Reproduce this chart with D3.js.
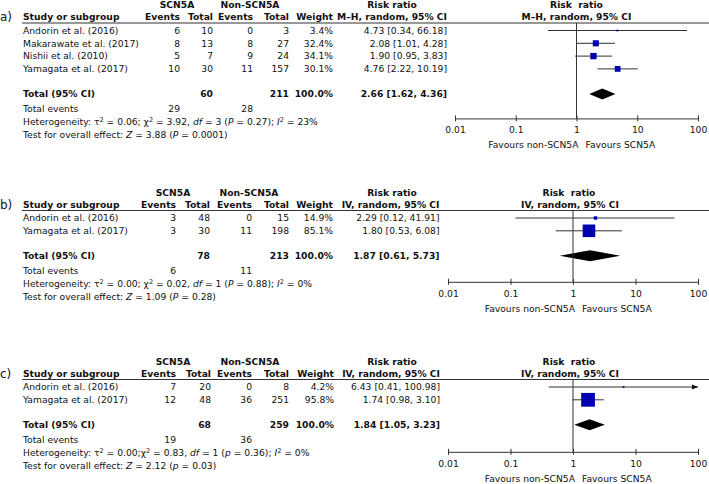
<!DOCTYPE html>
<html>
<head>
<meta charset="utf-8">
<script src="https://cdn.jsdelivr.net/npm/d3@7"></script>
<style>
  body { margin: 0; background: #fff; }
  svg text { font-family: "DejaVu Sans", sans-serif; font-size: 9.2px; fill: #111; }
  .bold { font-weight: bold; }
</style>
</head>
<body>
<div id="chart"></div>
<script>
// data, one entry per panel (a, b, c)
var panelLabels = ["a)", "b)", "c)"];
var methodLabels = ["M\u2013H, random, 95% CI", "IV, random, 95% CI", "IV, random, 95% CI"];
var studies = [
  ["Andorin et al. (2016)", "Makarawate et al. (2017)", "Nishii et al. (2010)", "Yamagata et al. (2017)"],
  ["Andorin et al. (2016)", "Yamagata et al. (2017)"],
  ["Andorin et al. (2016)", "Yamagata et al. (2017)"]
];
var scnEvents = [[6, 8, 5, 10], [3, 3], [7, 12]];
var scnTotal = [[10, 13, 7, 30], [48, 30], [20, 48]];
var nonEvents = [[0, 8, 9, 11], [0, 11], [0, 36]];
var nonTotal = [[3, 27, 24, 157], [15, 198], [8, 251]];
var weights = [[3.4, 32.4, 34.1, 30.1], [14.9, 85.1], [4.2, 95.8]];
var ratio = [[4.73, 2.08, 1.90, 4.76], [2.29, 1.80], [6.43, 1.74]];
var ciLow = [[0.34, 1.01, 0.95, 2.22], [0.12, 0.53], [0.41, 0.98]];
var ciHigh = [[66.18, 4.28, 3.83, 10.19], [41.91, 6.08], [100.98, 3.10]];
var pooled = [2.66, 1.87, 1.84];
var pooledLow = [1.62, 0.61, 1.05];
var pooledHigh = [4.36, 5.73, 3.23];
var sumScnTotal = [60, 78, 68];
var sumNonTotal = [211, 213, 259];
var sumScnEvents = [29, 6, 19];
var sumNonEvents = [28, 11, 36];
var tau2 = ["0.06", "0.00", "0.00"];
var chi2 = ["3.92", "0.02", "0.83"];
var dfs = [3, 1, 1];
var hetP = ["0.27", "0.88", "0.36"];
var i2 = [23, 0, 0];
var zValue = ["3.88", "1.09", "2.12"];
var zP = ["0.0001", "0.28", "0.03"];
var pLetter = ["P", "P", "p"];
var tickValues = [0.01, 0.1, 1, 10, 100];
var tickLabels = ["0.01", "0.1", "1", "10", "100"];

// layout per panel
var panelTop = [0, 187.5, 356.5];
var plotLeft = [455, 448, 448];
var plotRight = 698;
var effectRight = [447, 439.5, 440];
var colRight = [[180, 213, 253, 289, 333], [176, 210, 252, 289, 333], [176, 211, 252, 289, 334]];
var groupCenter = [[177, 250], [173, 249], [173, 250]];
var axisGap = [24.5, 26, 27];
var rowStep = 12.8;

var fmt2 = d3.format(".2f");
var fmt1 = d3.format(".1f");

var svg = d3.select("#chart").append("svg")
    .attr("width", 709)
    .attr("height", 484);

// square side from weight
var boxSize = d3.scalePow().exponent(0.75).domain([0, 100]).range([0, 14.2]);

function addText(g, x, y, str, anchor, bold) {
  return g.append("text")
    .attr("x", x)
    .attr("y", y)
    .attr("dy", "0.35em")
    .attr("text-anchor", anchor || "start")
    .attr("class", bold ? "bold" : null)
    .text(str);
}

function drawPanel(p) {
  var top = panelTop[p];
  var g = svg.append("g");
  var x = d3.scaleLog().domain([0.01, 100]).range([plotLeft[p], plotRight]);
  var cols = colRight[p];

  var h1 = top + 5, h2 = top + 17, lineY = top + 23;
  var rowY = function(i) { return top + 30.5 + i * rowStep; };
  var last = rowY(studies[p].length - 1);
  var totY = last + 25;
  var axisY = totY + axisGap[p];

  // panel letter
  g.append("text")
    .attr("x", 0).attr("y", h2).attr("dy", "0.35em")
    .style("font-size", "12px")
    .text(panelLabels[p]);

  // header rows
  addText(g, groupCenter[p][0], h1, "SCN5A", "middle", true);
  addText(g, groupCenter[p][1], h1, "Non-SCN5A", "middle", true);
  addText(g, 392, h1, "Risk ratio", "middle", true);
  addText(g, x(1) - (p ? 4 : 0), h1, "Risk  ratio", "middle", true).attr("xml:space", "preserve");
  addText(g, 23, h2, "Study or subgroup", "start", true);
  addText(g, cols[0], h2, "Events", "end", true);
  addText(g, cols[1], h2, "Total", "end", true);
  addText(g, cols[2], h2, "Events", "end", true);
  addText(g, cols[3], h2, "Total", "end", true);
  addText(g, cols[4], h2, "Weight", "end", true);
  addText(g, effectRight[p], h2, methodLabels[p], "end", true);
  addText(g, x(1) - (p ? 3 : 0), h2, methodLabels[p], "middle", true);

  g.append("line")
    .attr("x1", 22).attr("x2", 709)
    .attr("y1", lineY).attr("y2", lineY)
    .attr("stroke", "#333").attr("stroke-width", 1.2);

  // study rows
  studies[p].forEach(function(name, i) {
    var y = rowY(i);
    addText(g, 23, y, name);
    addText(g, cols[0], y, scnEvents[p][i], "end");
    addText(g, cols[1], y, scnTotal[p][i], "end");
    addText(g, cols[2], y, nonEvents[p][i], "end");
    addText(g, cols[3], y, nonTotal[p][i], "end");
    addText(g, cols[4], y, fmt1(weights[p][i]) + "%", "end");
    addText(g, effectRight[p], y,
      fmt2(ratio[p][i]) + " [" + fmt2(ciLow[p][i]) + ", " + fmt2(ciHigh[p][i]) + "]", "end");

    var hi = Math.min(ciHigh[p][i], 100);
    g.append("line")
      .attr("x1", x(Math.max(ciLow[p][i], 0.01))).attr("x2", x(hi))
      .attr("y1", y).attr("y2", y)
      .attr("stroke", "#333").attr("stroke-width", 1);
    if (ciHigh[p][i] > 100) {
      var ax = x(100);
      g.append("path")
        .attr("d", "M" + ax + "," + y + "L" + (ax - 6) + "," + (y - 2.5) + "L" + (ax - 6) + "," + (y + 2.5) + "Z")
        .attr("fill", "#111");
    }
    var s = Math.max(boxSize(weights[p][i]), 1.8);
    g.append("rect")
      .attr("x", x(ratio[p][i]) - s / 2)
      .attr("y", y - s / 2)
      .attr("width", s).attr("height", s)
      .attr("fill", "#0000b0");
  });

  // totals
  addText(g, 23, totY, "Total (95% CI)", "start", true);
  addText(g, cols[1], totY, sumScnTotal[p], "end", true);
  addText(g, cols[3], totY, sumNonTotal[p], "end", true);
  addText(g, cols[4], totY, "100.0%", "end", true);
  addText(g, effectRight[p], totY,
    fmt2(pooled[p]) + " [" + fmt2(pooledLow[p]) + ", " + fmt2(pooledHigh[p]) + "]", "end", true);

  var dh = 5.5;
  g.append("path")
    .attr("d", "M" + x(pooledLow[p]) + "," + totY +
      "L" + x(pooled[p]) + "," + (totY - dh) +
      "L" + x(pooledHigh[p]) + "," + totY +
      "L" + x(pooled[p]) + "," + (totY + dh) + "Z")
    .attr("fill", "#000");

  addText(g, 23, totY + 15, "Total events");
  addText(g, cols[0], totY + 15, sumScnEvents[p], "end");
  addText(g, cols[2], totY + 15, sumNonEvents[p], "end");

  // heterogeneity line with super/italics
  var het = addText(g, 23, totY + 28, "");
  het.append("tspan").text("Heterogeneity: \u03c4");
  het.append("tspan").attr("dy", -3).style("font-size", "6.5px").text("2");
  het.append("tspan").attr("dy", 3).text(" = " + tau2[p] + (p == 2 ? ";" : "; ") + "\u03c7");
  het.append("tspan").attr("dy", -3).style("font-size", "6.5px").text("2");
  het.append("tspan").attr("dy", 3).text(" = " + chi2[p] + ", ");
  het.append("tspan").style("font-style", "italic").text("df");
  het.append("tspan").text(" = " + dfs[p] + " (");
  het.append("tspan").style("font-style", "italic").text(pLetter[p]);
  het.append("tspan").text(" = " + hetP[p] + "); ");
  het.append("tspan").style("font-style", "italic").text("I");
  het.append("tspan").attr("dy", -3).style("font-size", "6.5px").text("2");
  het.append("tspan").attr("dy", 3).text(" = " + i2[p] + "%");

  var test = addText(g, 23, totY + 41, "");
  test.append("tspan").text("Test for overall effect: ");
  test.append("tspan").style("font-style", "italic").text("Z");
  test.append("tspan").text(" = " + zValue[p] + " (");
  test.append("tspan").style("font-style", "italic").text(pLetter[p]);
  test.append("tspan").text(" = " + zP[p] + ")");

  // null line
  g.append("line")
    .attr("x1", x(1)).attr("x2", x(1))
    .attr("y1", lineY).attr("y2", axisY)
    .attr("stroke", "#333").attr("stroke-width", 1);

  // axis
  var axis = d3.axisBottom(x)
    .tickValues(tickValues)
    .tickFormat(function(d, i) { return tickLabels[i]; })
    .tickSizeInner(6)
    .tickSizeOuter(0)
    .tickPadding(5);
  var ag = g.append("g")
    .attr("transform", "translate(0," + axisY + ")")
    .call(axis);
  ag.select(".domain").attr("stroke", "#333");
  ag.selectAll(".tick line").attr("y1", -3).attr("y2", 3).attr("stroke", "#333");
  ag.selectAll(".tick text")
    .attr("y", 11.5).attr("dy", "0.35em")
    .style("font-family", "DejaVu Sans, sans-serif")
    .style("font-size", "9.2px")
    .attr("fill", "#111");

  addText(g, x(1) + 2, axisY + 26.5, "Favours non-SCN5A", "end");
  addText(g, x(1) + 9, axisY + 26.5, "Favours SCN5A", "start");
}

[0, 1, 2].forEach(drawPanel);
</script>
</body>
</html>
